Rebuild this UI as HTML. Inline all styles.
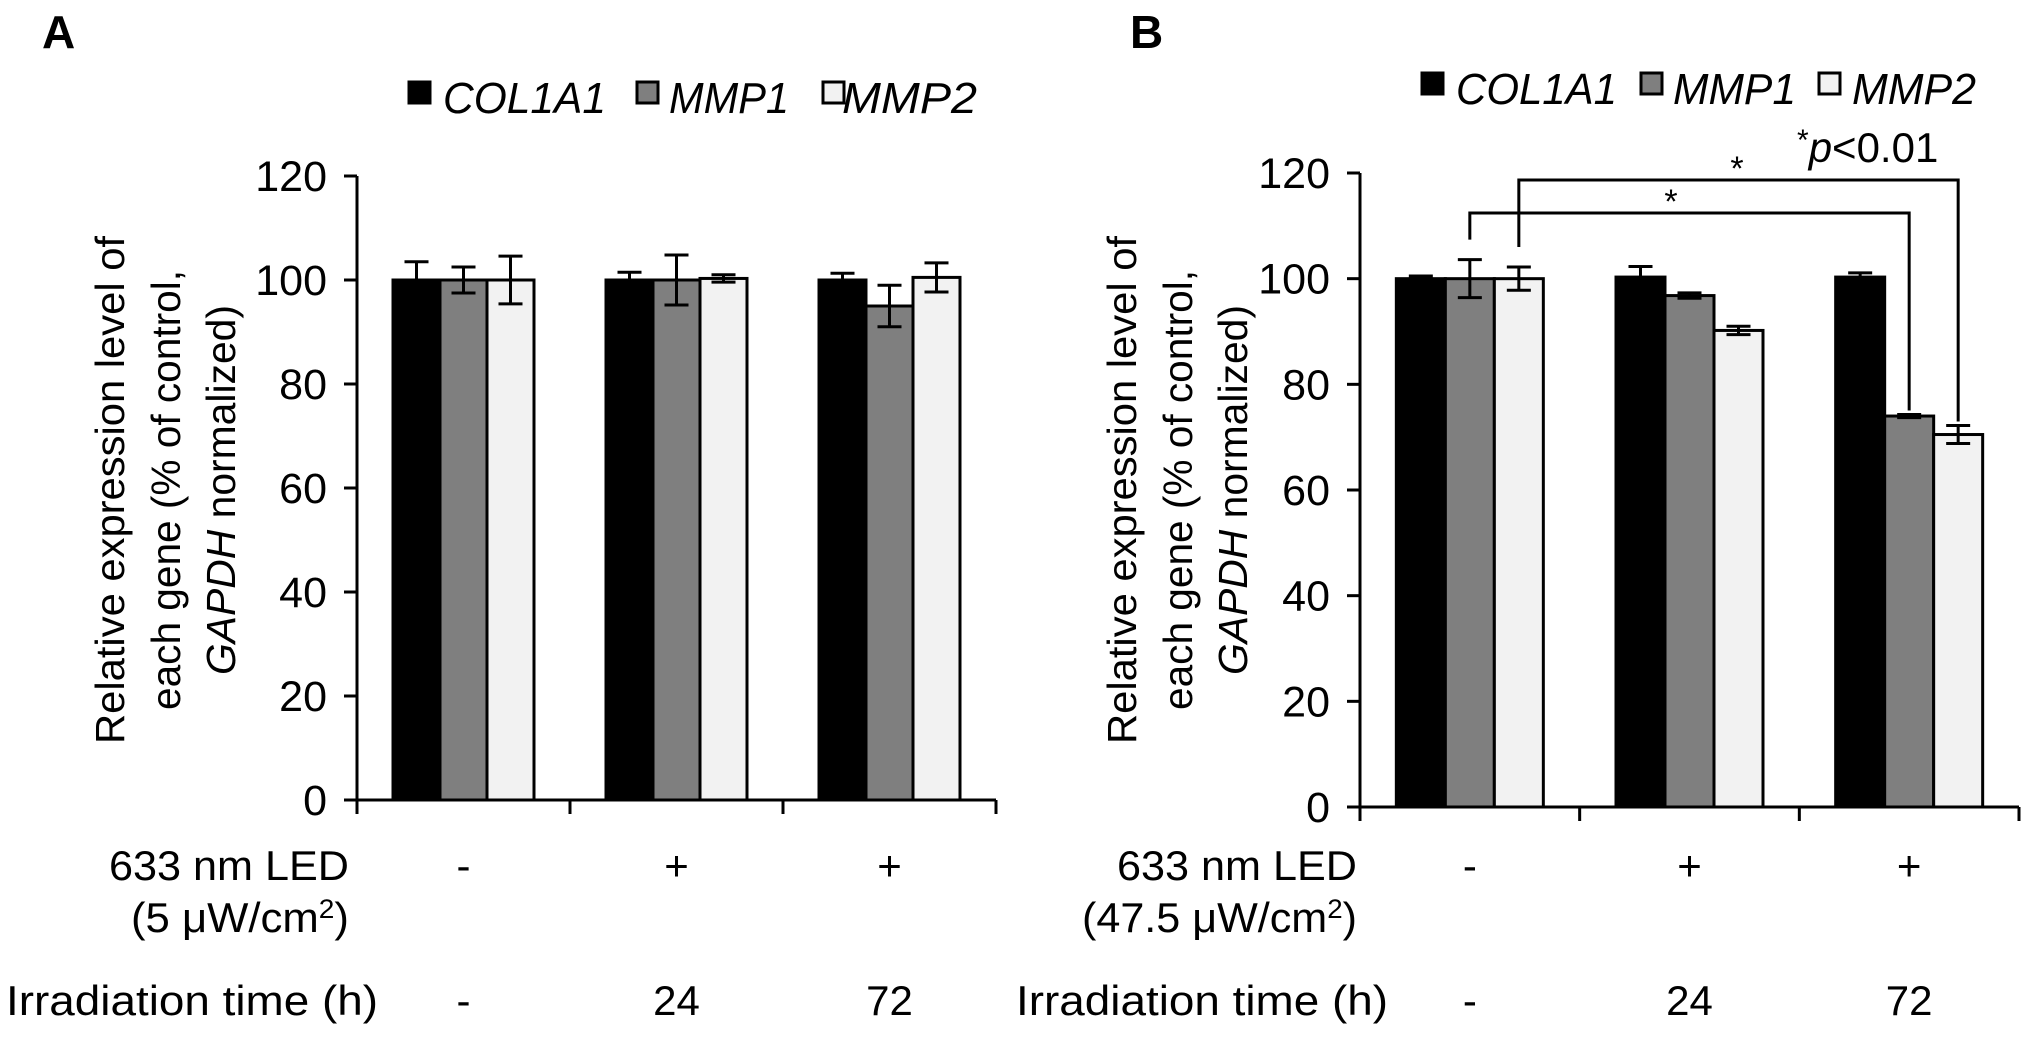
<!DOCTYPE html>
<html><head><meta charset="utf-8"><style>
html,body{margin:0;padding:0;background:#fff;}
svg{display:block;font-family:"Liberation Sans",Arial,sans-serif;}
</style></head><body>
<svg id="fig" width="2031" height="1038" viewBox="0 0 2031 1038" xmlns="http://www.w3.org/2000/svg"></svg>
<script>
// Panel A data
const categoriesA = ["control", "24 h", "72 h"];
const col1a1A = [100, 100, 100];
const col1a1ErrA = [3.5, 1.5, 1.3];
const mmp1A = [100, 100, 95];
const mmp1ErrA = [2.5, 4.8, 4];
const mmp2A = [100, 100.3, 100.5];
const mmp2ErrA = [4.6, 0.7, 2.8];
// Panel B data
const categoriesB = ["control", "24 h", "72 h"];
const col1a1B = [100, 100.3, 100.3];
const col1a1ErrB = [0.5, 2, 0.8];
const mmp1B = [100, 96.8, 74];
const mmp1ErrB = [3.6, 0.5, 0.3];
const mmp2B = [100, 90.2, 70.5];
const mmp2ErrB = [2.2, 0.8, 1.7];
const yTicks = [0, 20, 40, 60, 80, 100, 120];
const ledRow = ["-", "+", "+"];
const timeRow = ["-", "24", "72"];

const NS = "http://www.w3.org/2000/svg";
const svg = document.getElementById("fig");
function mk(tag, attrs, parent, text) {
  const e = document.createElementNS(NS, tag);
  for (const k in attrs) e.setAttribute(k, attrs[k]);
  if (text !== undefined) e.textContent = text;
  (parent || svg).appendChild(e);
  return e;
}

function panel(cfg) {
  const g = mk("g", {});
  
  
  const yS = v => cfg.y0 - (v / 120) * (cfg.y0 - cfg.yTop);
  const gw = (cfg.xEnd - cfg.x0) / cfg.cats.length;
  const xC = i => cfg.x0 + gw * (i + 0.5);
  const ax = mk("line", {x1: cfg.x0, y1: yS(120), x2: cfg.x0, y2: cfg.y0, stroke: "#000", "stroke-width": 3}, g);
  
  
  yTicks.forEach(t => {
    const y = yS(t);
    const tk = mk("line", {x1: cfg.x0 - 13, y1: y, x2: cfg.x0, y2: y, stroke: "#000", "stroke-width": 3}, g);
    
    
    const tl = mk("text", {x: cfg.x0 - 30, y: y + 15, "text-anchor": "end", "font-size": 43}, g, String(t));
    
    
  });
  const series = [
    {v: cfg.c, e: cfg.ce, fill: "#000", n: "col1a1"},
    {v: cfg.m1, e: cfg.m1e, fill: "#7f7f7f", n: "mmp1"},
    {v: cfg.m2, e: cfg.m2e, fill: "#f2f2f2", n: "mmp2"}];
  const bw = cfg.bw;
  cfg.cats.forEach((c, i) => {
    series.forEach((s, j) => {
      const x = xC(i) - 1.5 * bw + j * bw;
      const b = mk("rect", {x: x, y: yS(s.v[i]), width: bw, height: cfg.y0 - yS(s.v[i]), fill: s.fill, stroke: "#000", "stroke-width": 3}, g);
      
      
    });
    series.forEach((s, j) => {
      const cx = xC(i) - bw + j * bw;
      const hi = yS(s.v[i] + s.e[i]), lo = yS(s.v[i] - s.e[i]);
      const eb = mk("path", {d: `M${cx},${hi}V${lo}M${cx-12},${hi}H${cx+12}M${cx-12},${lo}H${cx+12}`, stroke: "#000", "stroke-width": 3, fill: "none"}, g);
      
      
    });
    const tk = mk("line", {x1: cfg.x0 + gw * (i + 1), y1: cfg.y0, x2: cfg.x0 + gw * (i + 1), y2: cfg.y0 + 14, stroke: "#000", "stroke-width": 3}, g);
    
    
    const l1 = mk("text", {x: xC(i), y: 880, "text-anchor": "middle", "font-size": 42}, g, ledRow[i]);
    
    
    const l2 = mk("text", {x: xC(i), y: 1015, "text-anchor": "middle", "font-size": 42}, g, timeRow[i]);
    
    
  });
  const xa = mk("line", {x1: cfg.x0 - 13, y1: cfg.y0, x2: cfg.xEnd, y2: cfg.y0, stroke: "#000", "stroke-width": 3}, g);
  
  
  const tk0 = mk("line", {x1: cfg.x0, y1: cfg.y0, x2: cfg.x0, y2: cfg.y0 + 14, stroke: "#000", "stroke-width": 3}, g);
  
  
  return {yS, xC, bw};
}

const A = panel({name: "panel-a", x0: 357, xEnd: 996, y0: 800, yTop: 176, bw: 47, cats: categoriesA,
  c: col1a1A, ce: col1a1ErrA, m1: mmp1A, m1e: mmp1ErrA, m2: mmp2A, m2e: mmp2ErrA});
const B = panel({name: "panel-b", x0: 1360, xEnd: 2019, y0: 807, yTop: 173, bw: 49, cats: categoriesB,
  c: col1a1B, ce: col1a1ErrB, m1: mmp1B, m1e: mmp1ErrB, m2: mmp2B, m2e: mmp2ErrB});

function txt(attrs, name, content) {
  const t = mk("text", attrs, svg);
  
  
  t.innerHTML = content;
  return t;
}
txt({x: 42, y: 48, "font-size": 46, "font-weight": "bold"}, "panel-label-a", "A");
txt({x: 1130, y: 48, "font-size": 46, "font-weight": "bold"}, "panel-label-b", "B");

function legend(items, y) {
  items.forEach(it => {
    const r = mk("rect", {x: it.sx, y: y - 31, width: 21, height: 21, fill: it.fill, stroke: "#000", "stroke-width": 3}, svg);
    
    
    const t = mk("text", {x: it.tx, y: y, "font-size": 44, "font-style": "italic", textLength: it.tl, lengthAdjust: "spacingAndGlyphs"}, svg, it.label);
    
    
  });
}
legend([
  {sx: 409, tx: 443, tl: 163, fill: "#000", label: "COL1A1"},
  {sx: 637, tx: 669, tl: 120, fill: "#7f7f7f", label: "MMP1"},
  {sx: 823, tx: 842, tl: 135, fill: "#f2f2f2", label: "MMP2"}], 113);
legend([
  {sx: 1422, tx: 1456, tl: 161, fill: "#000", label: "COL1A1"},
  {sx: 1641, tx: 1673, tl: 123, fill: "#7f7f7f", label: "MMP1"},
  {sx: 1819, tx: 1852, tl: 124, fill: "#f2f2f2", label: "MMP2"}], 104);

function ytitle(xs, name) {
  const lines = ["Relative expression level of", "each gene (% of control,", "<tspan font-style='italic'>GAPDH</tspan> normalized)"];
  const lens = [508, 440, 370];
  lines.forEach((l, i) => {
    const t = mk("text", {x: 0, y: 0, "font-size": 41, "text-anchor": "middle", transform: `translate(${xs[i]},490) rotate(-90)`, textLength: lens[i], lengthAdjust: "spacingAndGlyphs"}, svg);
    
    
    t.innerHTML = l;
  });
}
ytitle([124, 180, 235], "y-axis-title-a");
ytitle([1136, 1192, 1247], "y-axis-title-b");

txt({x: 349, y: 880, "font-size": 42, "text-anchor": "end", textLength: 240, lengthAdjust: "spacingAndGlyphs"}, "led-row-label-a", "633 nm LED");
txt({x: 349, y: 932, "font-size": 42, "text-anchor": "end", textLength: 218, lengthAdjust: "spacingAndGlyphs"}, "led-intensity-a", "(5 μW/cm<tspan dy='-14' font-size='27'>2</tspan><tspan dy='14'>)</tspan>");
txt({x: 6, y: 1015, "font-size": 42, textLength: 372, lengthAdjust: "spacingAndGlyphs"}, "time-row-label-a", "Irradiation time (h)");
txt({x: 1357, y: 880, "font-size": 42, "text-anchor": "end", textLength: 240, lengthAdjust: "spacingAndGlyphs"}, "led-row-label-b", "633 nm LED");
txt({x: 1357, y: 932, "font-size": 42, "text-anchor": "end", textLength: 275, lengthAdjust: "spacingAndGlyphs"}, "led-intensity-b", "(47.5 μW/cm<tspan dy='-14' font-size='27'>2</tspan><tspan dy='14'>)</tspan>");
txt({x: 1016, y: 1015, "font-size": 42, textLength: 372, lengthAdjust: "spacingAndGlyphs"}, "time-row-label-b", "Irradiation time (h)");

function bracket(series, errs, j, yb, name) {
  const x1 = B.xC(0) - B.bw + j * B.bw;
  const x2 = B.xC(2) - B.bw + j * B.bw;
  const y1 = B.yS(series[0] + errs[0]) - 20;
  const y2 = B.yS(series[2] + errs[2]) - 4;
  const p = mk("path", {d: `M${x1},${y1}V${yb}H${x2}V${y2}`, fill: "none", stroke: "#000", "stroke-width": 3}, svg);
  
  
}
bracket(mmp1B, mmp1ErrB, 1, 213, "significance-bracket-mmp1");
bracket(mmp2B, mmp2ErrB, 2, 180, "significance-bracket-mmp2");
txt({x: 1671, y: 213, "font-size": 34, "text-anchor": "middle"}, "significance-star-mmp1", "*");
txt({x: 1737, y: 180, "font-size": 34, "text-anchor": "middle"}, "significance-star-mmp2", "*");
txt({x: 1797, y: 162, "font-size": 42}, "p-value-note", "<tspan font-size='30' dy='-12'>*</tspan><tspan dy='12' font-style='italic'>p</tspan>&lt;0.01");
</script>
</body></html>
